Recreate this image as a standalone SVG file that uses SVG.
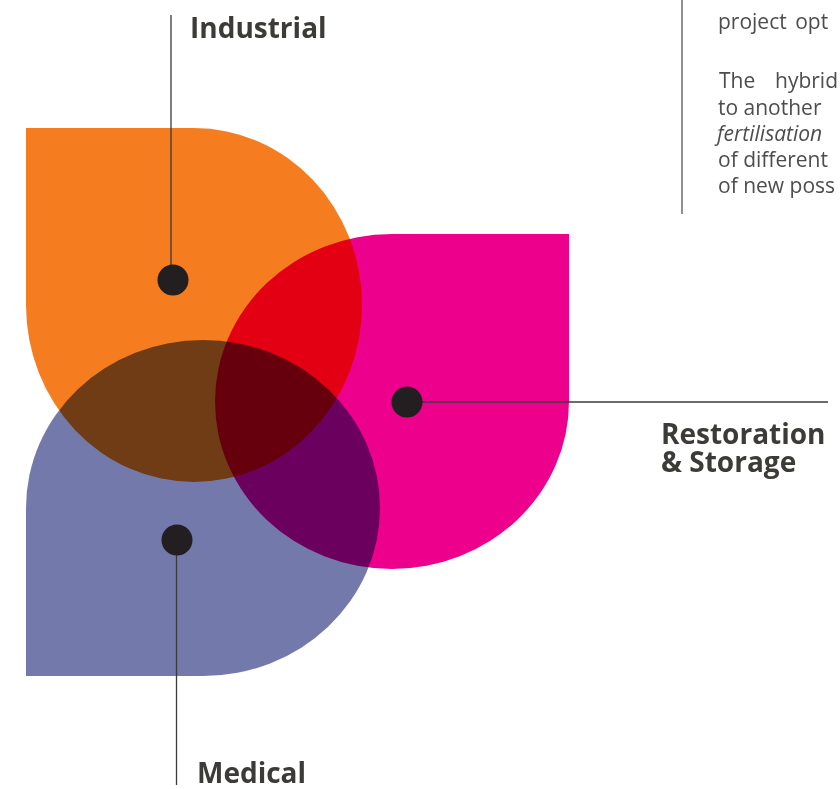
<svg xmlns="http://www.w3.org/2000/svg" width="840" height="789" viewBox="0 0 840 789">
<style>
.petal{mix-blend-mode:multiply}
.dot{fill:#231f20}
.lbl{font-family:"Open Sans","Liberation Sans",sans-serif;font-weight:700;font-size:28px;fill:#3c3b37}
.body{font-family:"Open Sans","Liberation Sans",sans-serif;font-size:21px;fill:#4d4d4d}
.conn{stroke:#3a3a3a;stroke-width:1.3;fill:none}
</style>
<rect width="840" height="789" fill="#ffffff"/>
<g id="industrial">
<path class="petal" fill="#f57d20" d="M26,128 H194 A168,177 0 0 1 362,305 A168,177 0 0 1 194,482 A168,177 0 0 1 26,305 Z"/>
</g>
<g id="restoration">
<path class="petal" fill="#ec008c" d="M569,234 V401.5 A177,167.5 0 0 1 392,569 A177,167.5 0 0 1 215,401.5 A177,167.5 0 0 1 392,234 Z"/>
</g>
<g id="medical">
<path class="petal" fill="#7479ac" d="M26,676 V508 A177,168 0 0 1 203,340 A177,168 0 0 1 380,508 A177,168 0 0 1 203,676 Z"/>
</g>
<g id="connectors">
<line class="conn" x1="171" y1="15" x2="171" y2="280"/>
<line class="conn" x1="407" y1="402" x2="828" y2="402"/>
<line class="conn" x1="176.5" y1="540" x2="176.5" y2="785"/>
</g>
<g id="industrial-label">
<circle class="dot" cx="173" cy="280" r="15.5"/>
<text class="lbl" x="190" y="38">Industrial</text>
</g>
<g id="restoration-label">
<circle class="dot" cx="407" cy="402" r="15.5"/>
<text class="lbl" x="661" y="444">Restoration</text>
<text class="lbl" x="661" y="472">&amp; Storage</text>
</g>
<g id="medical-label">
<circle class="dot" cx="177" cy="540" r="15.5"/>
<text class="lbl" x="197" y="783">Medical</text>
</g>
<g id="text-block">
<line x1="682" y1="0" x2="682" y2="214" stroke="#555555" stroke-width="1.3"/>
<text class="body" x="718" y="29" word-spacing="3">project opt</text>
<text class="body" y="88"><tspan x="719">The</tspan><tspan x="775">hybrid</tspan></text>
<text class="body" x="718" y="114.5">to another</text>
<text class="body" x="717" y="141" font-style="italic">fertilisation</text>
<text class="body" x="718" y="167">of different</text>
<text class="body" x="718" y="193">of new poss</text>
</g>
</svg>
